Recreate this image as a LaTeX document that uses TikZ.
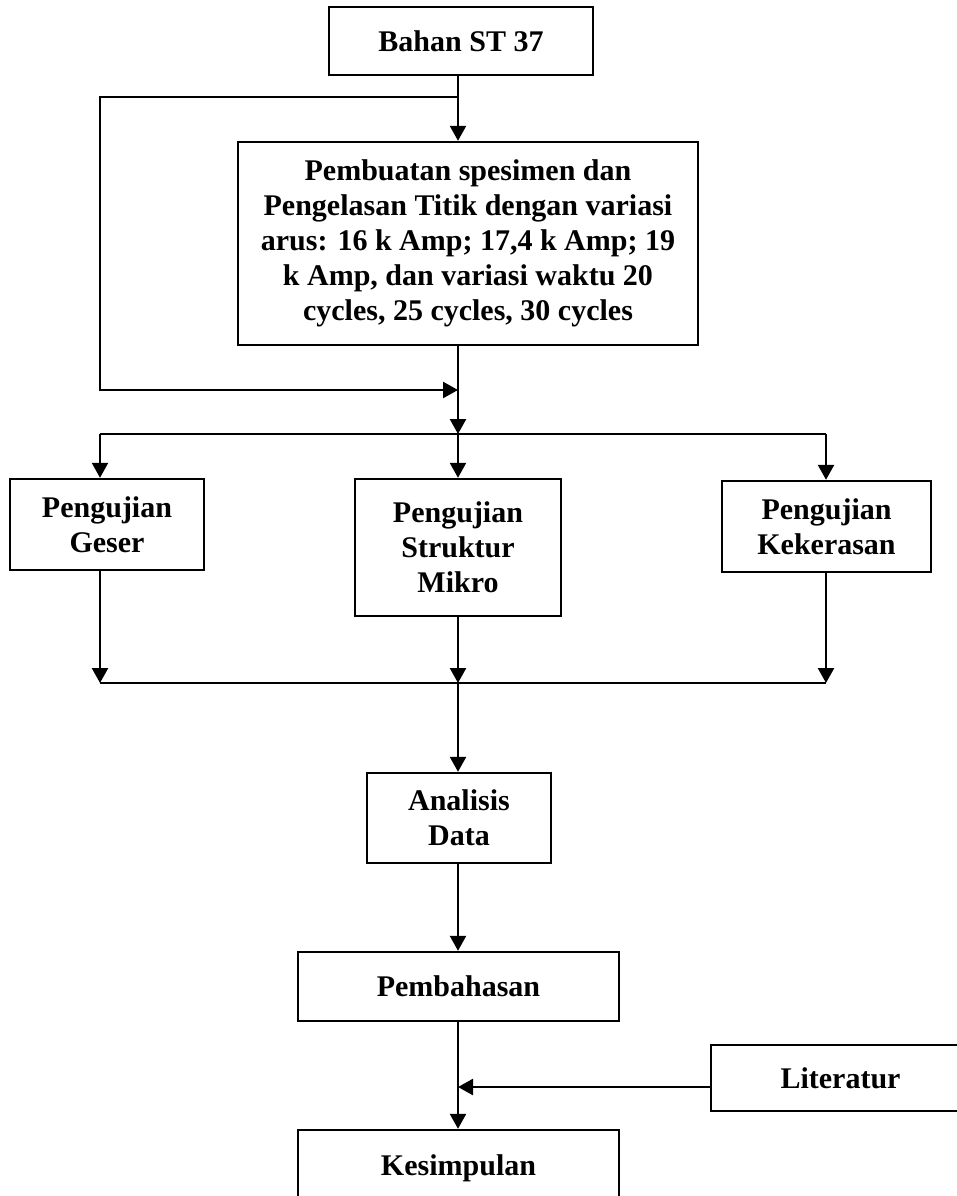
\documentclass[tikz,border=0pt]{standalone}
\usepackage{fontspec}
\setmainfont{Liberation Serif}
\usetikzlibrary{arrows.meta}
\tikzset{kotak/.style={draw,line width=2.4pt,align=center,inner sep=0pt,
		font=\bfseries\fontsize{30}{35}\selectfont},
	garis/.style={line width=2.4pt},
	panah/.style={line width=2.4pt,-{Triangle[length=15pt,width=16pt]}}}

\begin{document}
\begin{tikzpicture}[x=1pt,y=-1pt]
	\useasboundingbox (0,0) rectangle (956,1196);
	\node[kotak,minimum width=264pt,minimum height=68pt] (bahan) at (461,41) {Bahan ST 37};
	\node[kotak,minimum width=460pt,minimum height=203pt] (proses) at (468,243.5) {Pembuatan spesimen dan\\Pengelasan Titik dengan variasi\\arus: 16 k Amp; 17,4 k Amp; 19\\k Amp, dan variasi waktu 20\\cycles, 25 cycles, 30 cycles};
	\node[kotak,minimum width=194pt,minimum height=91pt] (geser) at (107,524.5) {Pengujian\\Geser};
	\node[kotak,minimum width=206pt,minimum height=137pt] (struktur) at (458,547.5) {Pengujian\\Struktur\\Mikro};
	\node[kotak,minimum width=209pt,minimum height=91pt] (keras) at (826.5,526.5) {Pengujian\\Kekerasan};
	\node[kotak,minimum width=184pt,minimum height=90pt] (analisis) at (459,818) {Analisis\\Data};
	\node[kotak,minimum width=321pt,minimum height=69pt] (bahas) at (458.5,986.5) {Pembahasan};
	\node[kotak,minimum width=259pt,minimum height=66pt] (literatur) at (840.5,1078) {Literatur};
	\node[kotak,minimum width=321pt,minimum height=80pt] (simpulan) at (458.5,1170) {\raisebox{9pt}{Kesimpulan}};
	\coordinate (atas) at (458,97);
	\coordinate (kiri) at (100,390);
	\coordinate (masuk) at (458,390);
	\coordinate (cabang) at (458,434);
	\coordinate (cabangkiri) at (100,434);
	\coordinate (cabangkanan) at (826,434);
	\coordinate (kumpul) at (458,683);
	\coordinate (kumpulkiri) at (100,683);
	\coordinate (kumpulkanan) at (826,683);
	\draw[panah] (bahan.south -| atas) -- (proses.north -| atas);
	\draw[panah] (atas) -| (kiri) -- (masuk);
	\draw[panah] (proses.south -| atas) -- (cabang);
	\draw[garis] (cabangkiri) -- (cabangkanan);
	\draw[panah] (cabangkiri) -- (cabangkiri |- geser.north);
	\draw[panah] (cabang) -- (struktur.north);
	\draw[panah] (cabangkanan) -- (cabangkanan |- keras.north);
	\draw[panah] (geser.south -| cabangkiri) -- (kumpulkiri);
	\draw[panah] (struktur.south) -- (kumpul);
	\draw[panah] (keras.south -| cabangkanan) -- (kumpulkanan);
	\draw[garis] (kumpulkiri) -- (kumpulkanan);
	\draw[panah] (kumpul) -- (analisis.north -| kumpul);
	\draw[panah] (analisis.south -| kumpul) -- (bahas.north -| kumpul);
	\draw[panah] (bahas.south -| kumpul) -- (simpulan.north -| kumpul);
	\draw[panah] ([yshift=-9pt]literatur.west) -- ([yshift=-9pt]literatur.west -| kumpul);
\end{tikzpicture}
\end{document}
